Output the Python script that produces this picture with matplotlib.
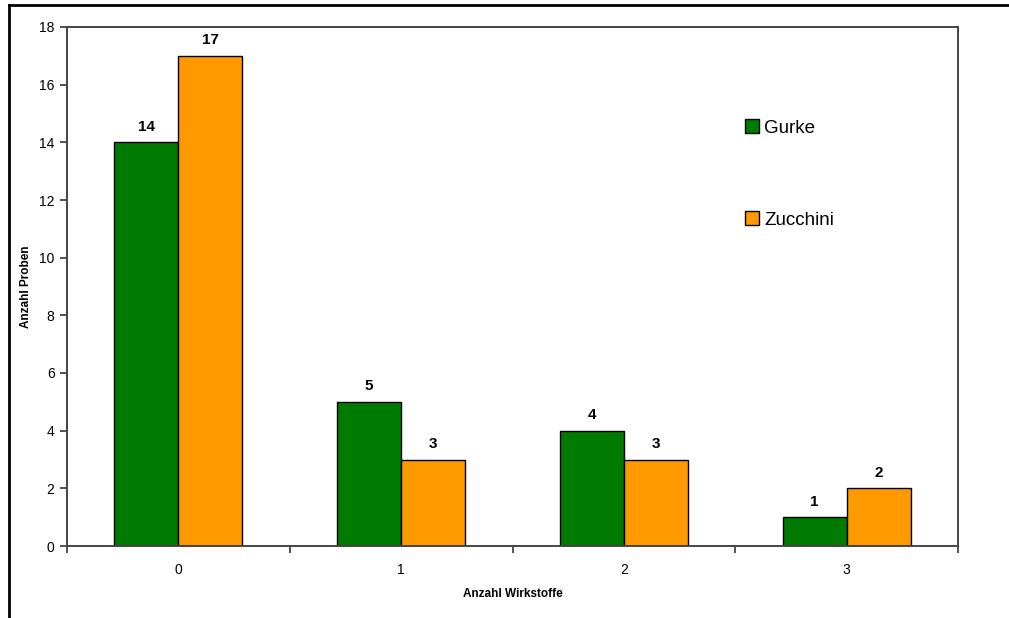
import matplotlib
matplotlib.use("Agg")
import matplotlib.pyplot as plt
from matplotlib.lines import Line2D
import numpy as np

plt.rcParams['font.family'] = ['Liberation Sans', 'DejaVu Sans']

categories = ["0", "1", "2", "3"]
gurke = [14, 5, 4, 1]
zucchini = [17, 3, 3, 2]
series_names = ["Gurke", "Zucchini"]
colors = ["#007A00", "#FF9900"]
y_ticks = [0, 2, 4, 6, 8, 10, 12, 14, 16, 18]

fig = plt.figure(figsize=(10.09, 6.18), dpi=100)
ax = fig.add_axes([67 / 1009, 1 - 546 / 618, (958 - 67) / 1009, (546 - 27) / 618])

x = np.arange(len(categories))
w = 0.287
b1 = ax.bar(x - w / 2, gurke, width=w, color=colors[0], edgecolor="black", linewidth=1.0, label=series_names[0])
b2 = ax.bar(x + w / 2, zucchini, width=w, color=colors[1], edgecolor="black", linewidth=1.0, label=series_names[1])

for bars, vals in ((b1, gurke), (b2, zucchini)):
    for r, v in zip(bars, vals):
        ax.annotate(str(v), (r.get_x() + r.get_width() / 2, v), xytext=(0, 6),
                    textcoords="offset points", ha="center", va="bottom",
                    fontsize=11, fontweight="bold")

ax.set_xlim(-0.5, len(categories) - 0.5)
ax.set_ylim(0, 18)
ax.set_yticks(y_ticks)
ax.set_yticklabels([str(t) for t in y_ticks], fontsize=10)
ax.set_xticks(x)
ax.set_xticklabels(categories, fontsize=10)
ax.tick_params(axis="x", length=0, pad=12)
ax.set_xticks(np.arange(-0.5, len(categories)), minor=True)
ax.tick_params(axis="x", which="minor", length=5, width=1.2, color="#333333", direction="out")
ax.tick_params(axis="y", length=5, width=1.2, color="#333333", direction="out", pad=4)

for s in ax.spines.values():
    s.set_color("#444444")
    s.set_linewidth(1.4)

ax.set_xlabel("Anzahl Wirkstoffe", fontsize=8.5, fontweight="bold", labelpad=8)
ax.set_ylabel("Anzahl Proben", fontsize=8.5, fontweight="bold", labelpad=5)

# legend with widely spaced entries
leg = ax.legend(loc="upper left", bbox_to_anchor=((736 - 67) / (958 - 67), 1 - (110 - 27) / (546 - 27)),
                frameon=False, fontsize=13.5, handlelength=0.75, handleheight=0.75,
                handletextpad=0.25, labelspacing=3.98, borderpad=0)

# outer chart border (top and left edges)
fig.add_artist(Line2D([9 / 1009, 1.0], [1 - 5 / 618, 1 - 5 / 618], color="black", lw=2))
fig.add_artist(Line2D([9 / 1009, 9 / 1009], [0, 1 - 5 / 618], color="black", lw=2))

fig.savefig("out.png", dpi=100)
